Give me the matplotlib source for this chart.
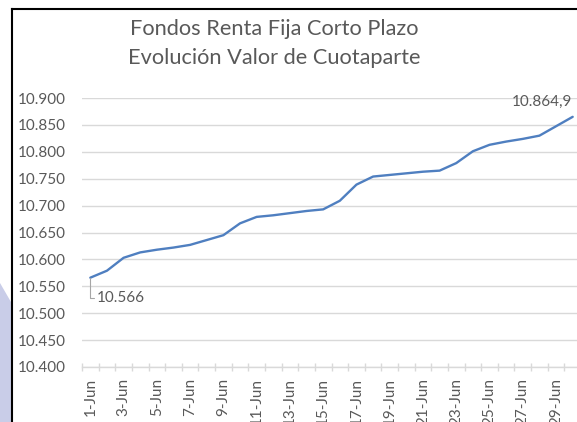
import numpy as np
import matplotlib
matplotlib.use('Agg')
import matplotlib.pyplot as plt
from matplotlib.lines import Line2D
from matplotlib.patches import Polygon

# Data
days = list(range(1, 31))
day_labels = [f"{d}-Jun" for d in days]
valor_cuotaparte = [10.566, 10.579, 10.603, 10.613, 10.618, 10.622, 10.627, 10.636,
                    10.645, 10.667, 10.679, 10.682, 10.686, 10.690, 10.693, 10.709,
                    10.739, 10.754, 10.757, 10.760, 10.763, 10.765, 10.779, 10.801,
                    10.813, 10.819, 10.824, 10.830, 10.8475, 10.865]
y_ticks = [10.40, 10.45, 10.50, 10.55, 10.60, 10.65, 10.70, 10.75, 10.80, 10.85, 10.90]
title_lines = ["Fondos Renta Fija Corto Plazo", "Evolución Valor de Cuotaparte"]
first_label = "10.566"
last_label = "10.864,9"

plt.rcParams['font.family'] = ['Lato', 'DejaVu Sans']
text_gray = '#595959'
grid_gray = '#d9d9d9'
line_blue = '#4f7fc0'

W, H = 577, 422
fig = plt.figure(figsize=(W / 100, H / 100), dpi=100)
fig.patch.set_facecolor('white')

# Plot area (extends a little past the right edge like the cropped original)
left, right, bottom, top = 82, 581, 367, 98
ax = fig.add_axes([left / W, 1 - bottom / H, (right - left) / W, (bottom - top) / H])

x = np.arange(len(days))
ax.plot(x, valor_cuotaparte, color=line_blue, linewidth=1.7, solid_capstyle='round',
        clip_on=False)

ax.set_xlim(-0.5, len(days) - 0.5)
ax.set_ylim(y_ticks[0], y_ticks[-1])
ax.set_yticks(y_ticks)
ax.set_yticklabels([f"{v:.3f}" for v in y_ticks])
ax.yaxis.grid(True, color=grid_gray, linewidth=1)
ax.set_axisbelow(True)

# category labels every two days, tick marks between categories
ax.set_xticks(x[::2])
ax.set_xticklabels(day_labels[::2], rotation=90)
ax.set_xticks(np.arange(-0.5, len(days)), minor=True)
ax.tick_params(axis='x', which='major', length=0, pad=8, labelsize=11, labelcolor=text_gray)
ax.tick_params(axis='x', which='minor', length=6, width=1, color=grid_gray, direction='inout')
ax.tick_params(axis='y', length=0, pad=12, labelsize=11, labelcolor=text_gray)

for side in ['top', 'right', 'left']:
    ax.spines[side].set_visible(False)
ax.spines['bottom'].set_color(grid_gray)
ax.spines['bottom'].set_linewidth(1)

# data labels
ax.annotate(first_label, xy=(0, valor_cuotaparte[0]), xytext=(5, -14.5),
            textcoords='offset points', fontsize=11, color=text_gray,
            ha='left', va='center',
            arrowprops=dict(arrowstyle='-', color='#a6a6a6', lw=0.8,
                            connectionstyle='angle,angleA=0,angleB=90,rad=0',
                            shrinkA=0, shrinkB=0, relpos=(0, 0.5)))
ax.annotate(last_label, xy=(len(days) - 1, valor_cuotaparte[-1]), xytext=(-22, 11),
            textcoords='offset points', fontsize=11, color=text_gray,
            ha='center', va='center', annotation_clip=False)

# title
fig.text(274 / W, 1 - 29 / H, title_lines[0], ha='center', va='center',
         fontsize=15.7, color=text_gray)
fig.text(274 / W, 1 - 58 / H, title_lines[1], ha='center', va='center',
         fontsize=15.7, color=text_gray)

# chart frame (cropped) and the slide shape peeking at bottom left
fig.add_artist(Line2D([12 / W, 12 / W], [0, 1 - 9 / H], color='black', linewidth=1.5))
fig.add_artist(Line2D([12 / W, 1], [1 - 9 / H, 1 - 9 / H], color='black', linewidth=1.5))
fig.add_artist(Polygon([(0, 1 - 283 / H), (11 / W, 1 - 302 / H), (11 / W, 0), (0, 0)],
                       closed=True, facecolor='#c9cde8', edgecolor='none',
                       transform=fig.transFigure))

plt.savefig('out.png', dpi=100)
plt.close()
